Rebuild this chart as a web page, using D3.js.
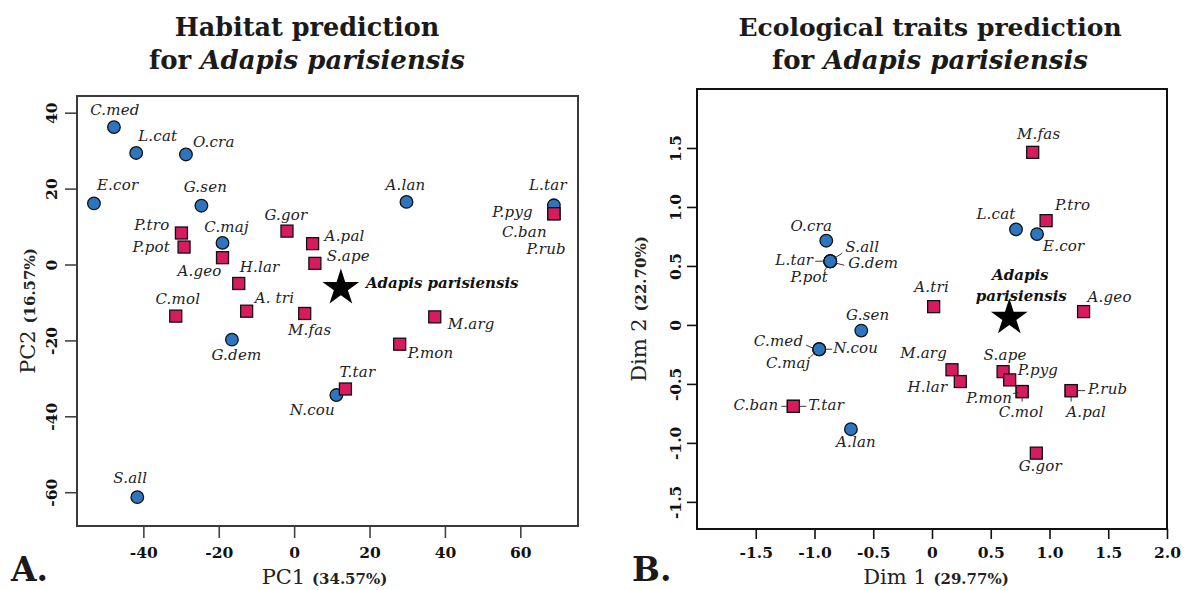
<!DOCTYPE html>
<html><head><meta charset="utf-8">
<script src="https://cdn.jsdelivr.net/npm/d3@7"></script>
<style>body{margin:0;background:#fff} svg{display:block}</style>
</head><body>
<svg id="chart" width="1192" height="590"></svg>
<script>
// ---------- Panel A: habitat prediction (PCA) ----------
const habitatSpecies = ["C.med","L.cat","O.cra","E.cor","G.sen","C.maj","A.lan","L.tar","G.dem","S.all","N.cou",
  "P.tro","P.pot","A.geo","G.gor","A.pal","S.ape","H.lar","A. tri","C.mol","M.fas","M.arg","P.mon","T.tar","P.pyg","C.ban","P.rub"];
const habitatPC1 = [-47.8,-41.9,-28.7,-53.1,-24.6,-19.0,29.8,68.9,-16.5,-41.6,11.2,
  -29.9,-29.2,-19.0,-1.9,4.9,5.5,-14.7,-12.6,-31.4,2.8,37.3,28.0,13.6,68.9,68.9,68.9];
const habitatPC2 = [36.2,29.4,29.0,16.1,15.5,5.7,16.5,15.6,-19.8,-61.3,-34.4,
  8.3,4.6,1.8,8.8,5.5,0.3,-5.0,-12.3,-13.6,-12.9,-13.8,-21.0,-32.8,13.4,13.4,13.4];
const habitatGroup = ["circle","circle","circle","circle","circle","circle","circle","circle","circle","circle","circle",
  "square","square","square","square","square","square","square","square","square","square","square","square","square","square","square","square"];
const habitatXTicks = [-40,-20,0,20,40,60];
const habitatYTicks = [-60,-40,-20,0,20,40];
const habitatFossil = [12.4,-5.9];

// ---------- Panel B: ecological traits prediction ----------
const traitSpecies = ["O.cra","L.tar","S.all","G.dem","P.pot","L.cat","E.cor","G.sen","C.med","N.cou","C.maj","A.lan",
  "M.fas","P.tro","C.ban","T.tar","A.tri","A.geo","M.arg","H.lar","S.ape","P.pyg","C.mol","P.mon","P.rub","A.pal","G.gor"];
const traitDim1 = [-0.90,-0.866,-0.866,-0.866,-0.866,0.715,0.894,-0.602,-0.96,-0.96,-0.96,-0.69,
  0.857,0.971,-1.18,-1.18,0.014,1.29,0.17,0.241,0.605,0.661,0.767,0.767,1.184,1.184,0.888];
const traitDim2 = [0.714,0.54,0.54,0.54,0.54,0.81,0.77,-0.048,-0.206,-0.206,-0.206,-0.884,
  1.463,0.884,-0.69,-0.69,0.155,0.113,-0.38,-0.48,-0.396,-0.466,-0.565,-0.565,-0.557,-0.557,-1.087];
const traitGroup = ["circle","circle","circle","circle","circle","circle","circle","circle","circle","circle","circle","circle",
  "square","square","square","square","square","square","square","square","square","square","square","square","square","square","square"];
const traitXTicks = [-1.5,-1,-0.5,0,0.5,1,1.5,2];
const traitYTicks = [-1.5,-1,-0.5,0,0.5,1,1.5];
const traitFossil = [0.658,0.07];

// ---------- layout / style ----------
const labelLayoutA = {
  "C.med":["middle",1,-12],"L.cat":["start",2,-12],"O.cra":["start",7,-7],"E.cor":["start",3,-13],
  "G.sen":["middle",4,-13.5],"C.maj":["middle",4,-11],"A.lan":["middle",-1,-12],"L.tar":["middle",-6,-15],
  "G.dem":["middle",4.5,20],"S.all":["middle",-7,-14],"N.cou":["middle",-24,20],"P.tro":["end",-12,-3],
  "P.pot":["end",-14,5],"A.geo":["end",-1,18],"G.gor":["middle",-1,-11],"A.pal":["start",12,-3],
  "S.ape":["start",12,-2],"H.lar":["start",1,-11],"A. tri":["start",8,-8],"C.mol":["middle",2,-12],
  "M.fas":["middle",5,22],"M.arg":["start",13,12],"P.mon":["start",8,14],"T.tar":["middle",12,-12],
  "P.pyg":["end",-21,3],"C.ban":["end",-7,23],"P.rub":["end",12,40]
};
const labelLayoutB = {
  "O.cra":["middle",-15,-10],"L.tar":["end",-17,4,[-15,0,-6,0]],"S.all":["start",15,-9,[4,-3,12,-8]],
  "G.dem":["start",18,7,[6,2,14,4]],"P.pot":["middle",-21,21,[-3,5,-6,10]],"L.cat":["middle",-20,-10],
  "E.cor":["start",6,17],"G.sen":["middle",6.5,-11],"C.med":["end",-16,-3,[-13,-4,-6,-1]],
  "N.cou":["start",14,3.5,[6,0,13,0]],"C.maj":["middle",-31,19,[-5,4,-9,8]],"A.lan":["middle",5,18],
  "M.fas":["middle",6,-13],"P.tro":["start",9,-11],"C.ban":["end",-15,3.5,[-12,0,-6,0]],
  "T.tar":["start",15,3.5,[6,0,13,0]],"A.tri":["middle",-2,-15],"A.geo":["start",4,-10],
  "M.arg":["end",-5,-12],"H.lar":["end",-13,10],"S.ape":["middle",2,-12],"P.pyg":["start",8,-5],
  "P.mon":["end",-10,11.5,[-9,2,-4,1]],"C.mol":["middle",-1,25,[0,6,0,10]],
  "P.rub":["start",17,3.5,[6,0,14,0]],"A.pal":["middle",15,26,[0,6,0,11]],"G.gor":["middle",4,18]
};

const BLUE = "#2d76bf", PINK = "#d81b5e", SERIF = "'DejaVu Serif', serif";
const svg = d3.select("#chart");

function drawPanel(cfg) {
  const x = d3.scaleLinear().domain(cfg.xDomain).range([cfg.left, cfg.right]);
  const y = d3.scaleLinear().domain(cfg.yDomain).range([cfg.bottom, cfg.top]);
  const g = svg.append("g");

  // x axis
  const xa = g.append("g").attr("transform", `translate(0,${cfg.bottom})`)
    .call(d3.axisBottom(x).tickValues(cfg.xTicks).tickFormat(cfg.fmt).tickSize(cfg.tick).tickSizeOuter(0));
  xa.select(".domain").remove();
  xa.selectAll("line").attr("stroke", cfg.axisColor).attr("stroke-width", 1.6);
  xa.selectAll("text").attr("y", cfg.xLabOff).attr("dy", 0)
    .attr("font-family", SERIF).attr("font-weight", "bold").attr("font-size", 15.5).attr("fill", "#111");

  // y axis
  const ya = g.append("g").attr("transform", `translate(${cfg.left},0)`)
    .call(d3.axisLeft(y).tickValues(cfg.yTicks).tickFormat(cfg.fmt).tickSize(cfg.tick).tickSizeOuter(0));
  ya.select(".domain").remove();
  ya.selectAll("line").attr("stroke", cfg.axisColor).attr("stroke-width", 1.6);
  ya.selectAll("text").attr("x", 0).attr("y", -cfg.yLabOff).attr("dy", 0)
    .attr("text-anchor", "middle").attr("transform", "rotate(-90)")
    .attr("font-family", SERIF).attr("font-weight", "bold").attr("font-size", 15.5).attr("fill", "#111");

  // frame
  g.append("rect").attr("x", cfg.left).attr("y", cfg.top)
    .attr("width", cfg.right - cfg.left).attr("height", cfg.bottom - cfg.top)
    .attr("fill", "none").attr("stroke", cfg.frameColor).attr("stroke-width", 2);

  // axis titles
  const xt = g.append("text").attr("x", (cfg.left + cfg.right) / 2 + cfg.xTitleShift).attr("y", 584)
    .attr("text-anchor", "middle").attr("font-family", SERIF).attr("fill", "#222");
  xt.append("tspan").attr("font-size", 21).text(cfg.xTitle[0] + " ");
  xt.append("tspan").attr("font-size", 15).attr("font-weight", "bold").text(cfg.xTitle[1]);
  const yt = g.append("text").attr("transform", `translate(${cfg.yTitleX},${(cfg.top + cfg.bottom) / 2}) rotate(-90)`)
    .attr("text-anchor", "middle").attr("font-family", SERIF).attr("fill", "#222");
  yt.append("tspan").attr("font-size", 21).text(cfg.yTitle[0] + " ");
  yt.append("tspan").attr("font-size", 15).attr("font-weight", "bold").text(cfg.yTitle[1]);

  // title
  g.append("text").attr("x", cfg.titleX).attr("y", 36).attr("text-anchor", "middle")
    .attr("font-family", SERIF).attr("font-weight", "bold").attr("font-size", cfg.titleSize).attr("fill", "#1a1a1a")
    .text(cfg.title);
  const t2 = g.append("text").attr("x", cfg.titleX).attr("y", 69).attr("text-anchor", "middle")
    .attr("font-family", SERIF).attr("font-weight", "bold").attr("font-size", 26).attr("fill", "#1a1a1a");
  t2.append("tspan").text("for ");
  t2.append("tspan").attr("font-style", "italic").text("Adapis parisiensis");

  // panel letter
  g.append("text").attr("x", cfg.letterX).attr("y", 581).attr("font-family", SERIF)
    .attr("font-weight", "bold").attr("font-size", 33).attr("fill", "#1a1a1a").text(cfg.letter);

  // data
  const rows = cfg.species.map((s, i) => ({ s, vx: cfg.vx[i], vy: cfg.vy[i], grp: cfg.grp[i] }));
  const pts = g.append("g");
  rows.filter(d => d.grp === "circle").forEach(d => {
    pts.append("circle").attr("cx", x(d.vx)).attr("cy", y(d.vy)).attr("r", 6.3)
      .attr("fill", BLUE).attr("stroke", "#111").attr("stroke-width", 1.3);
  });
  rows.filter(d => d.grp === "square").forEach(d => {
    pts.append("rect").attr("x", x(d.vx) - 6).attr("y", y(d.vy) - 6).attr("width", 12).attr("height", 12)
      .attr("fill", PINK).attr("stroke", "#111").attr("stroke-width", 1.3);
  });

  // labels
  const lab = g.append("g").attr("font-family", SERIF).attr("font-style", "italic")
    .attr("font-size", 15).attr("letter-spacing", 0.2).attr("fill", "#222");
  rows.forEach(d => {
    const L = cfg.layout[d.s];
    if (!L) return;
    const px = x(d.vx), py = y(d.vy);
    lab.append("text").attr("x", px + L[1]).attr("y", py + L[2]).attr("text-anchor", L[0]).text(d.s);
    if (L[3]) {
      g.append("line").attr("x1", px + L[3][0]).attr("y1", py + L[3][1])
        .attr("x2", px + L[3][2]).attr("y2", py + L[3][3]).attr("stroke", "#222").attr("stroke-width", 0.9);
    }
  });

  // fossil star
  const fx = x(cfg.fossil[0]), fy = y(cfg.fossil[1]);
  g.append("path").attr("d", d3.symbol(d3.symbolStar, 420)())
    .attr("transform", `translate(${fx},${fy + 1})`).attr("fill", "#000");
  const ft = g.append("g").attr("font-family", SERIF).attr("font-style", "italic").attr("font-weight", "bold")
    .attr("font-size", 15).attr("fill", "#111");
  cfg.fossilLabel(ft, fx, fy);
}

const hyphen = s => s.replace("\u2212", "-");
const fmtA = d => hyphen(d3.format("d")(d));
const fmtB = d => d === 0 ? "0" : hyphen(d3.format(".1f")(d));

drawPanel({
  left: 77, right: 578, top: 96, bottom: 526,
  xDomain: [-57.6, 75.3], yDomain: [-68.9, 44.4],
  xTicks: habitatXTicks, yTicks: habitatYTicks, fmt: fmtA, tick: 12,
  xLabOff: 32, yLabOff: 20, axisColor: "#444", frameColor: "#3a3a3a",
  xTitle: ["PC1", "(34.57%)"], yTitle: ["PC2", "(16.57%)"], xTitleShift: -3, yTitleX: 35,
  title: "Habitat prediction", titleSize: 25.5, titleX: 307, letter: "A.", letterX: 11,
  species: habitatSpecies, vx: habitatPC1, vy: habitatPC2, grp: habitatGroup, layout: labelLayoutA,
  fossil: habitatFossil,
  fossilLabel: (g, fx, fy) => g.append("text").attr("x", fx + 25).attr("y", fy + 1).text("Adapis parisiensis")
});

drawPanel({
  left: 697, right: 1167, top: 89, bottom: 529,
  xDomain: [-2.0, 2.0], yDomain: [-1.73, 2.0],
  xTicks: traitXTicks, yTicks: traitYTicks, fmt: fmtB, tick: 10,
  xLabOff: 29, yLabOff: 16, axisColor: "#111", frameColor: "#111",
  xTitle: ["Dim 1", "(29.77%)"], yTitle: ["Dim 2", "(22.70%)"], xTitleShift: 4, yTitleX: 646,
  title: "Ecological traits prediction", titleSize: 25, titleX: 930, letter: "B.", letterX: 632,
  species: traitSpecies, vx: traitDim1, vy: traitDim2, grp: traitGroup, layout: labelLayoutB,
  fossil: traitFossil,
  fossilLabel: (g, fx, fy) => {
    g.append("text").attr("x", fx + 11).attr("y", fy - 37).attr("text-anchor", "middle").text("Adapis");
    g.append("text").attr("x", fx + 12).attr("y", fy - 16).attr("text-anchor", "middle").text("parisiensis");
  }
});
</script>
</body></html>
